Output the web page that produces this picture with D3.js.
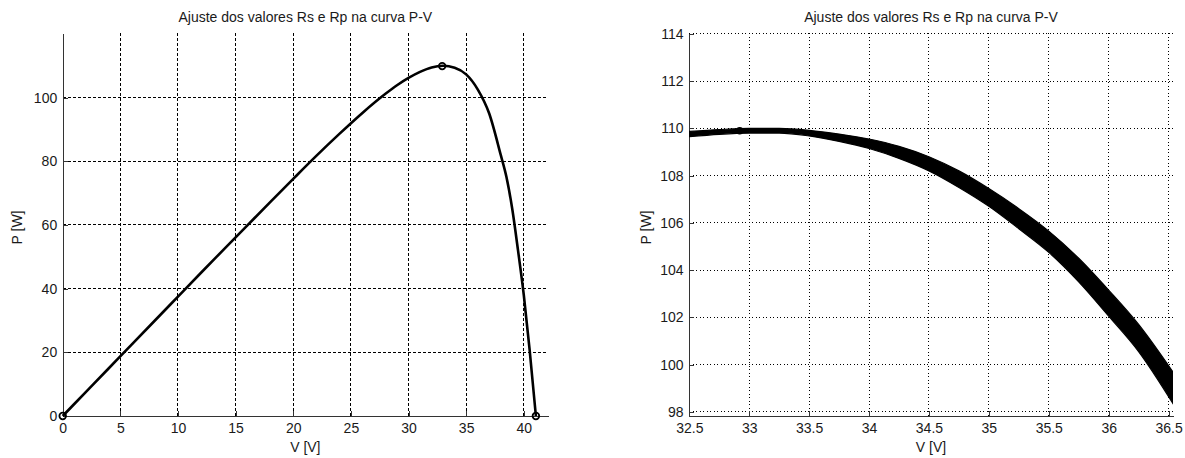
<!DOCTYPE html>
<html><head><meta charset="utf-8">
<script src="https://cdn.jsdelivr.net/npm/d3@7"></script>
<style>
body{margin:0;background:#fff}
text{font-family:"Liberation Sans",Arial,sans-serif;font-size:14px;fill:#1a1a1a}
</style>
</head><body>
<svg id="c" width="1185" height="458"></svg>
<script>
// ---- data ----
const chartTitle = "Ajuste dos valores Rs e Rp na curva P-V";
const xLabel = "V [V]";
const yLabel = "P [W]";

// full P-V curve (left)
const fullV = [0, 2, 4, 6, 8, 10, 12, 14, 16, 18, 20, 22, 24, 26, 28, 29, 30, 31, 32, 33, 34, 35, 36, 37, 38, 38.5, 39, 39.5, 40, 40.5, 41.05];
const fullP = [0, 7.5, 15.0, 22.5, 30.0, 37.5, 45.0, 52.4, 59.8, 67.2, 74.5, 81.7, 88.6, 95.2, 101.2, 103.9, 106.2, 108.1, 109.5, 110.0, 109.4, 107.3, 102.6, 95.0, 82.0, 75.0, 65.0, 52.0, 38.0, 21.0, 0];
const fullMarkerV = [0, 32.92, 41.05];
const fullMarkerP = [0, 109.9, 0];
const leftXTicks = [0, 5, 10, 15, 20, 25, 30, 35, 40];
const leftYTicks = [0, 20, 40, 60, 80, 100];

// zoomed family of curves (right): upper and lower envelope of the band
const zoomV     = [32.5, 32.75, 33.0, 33.25, 33.5, 33.75, 34.0, 34.25, 34.5, 34.75, 35.0, 35.25, 35.5, 35.75, 36.0, 36.25, 36.54];
const zoomUpper = [109.87, 109.95, 110.0, 110.0, 109.92, 109.76, 109.55, 109.24, 108.8, 108.2, 107.45, 106.6, 105.65, 104.5, 103.15, 101.7, 99.66];
const zoomLower = [109.65, 109.75, 109.8, 109.8, 109.68, 109.45, 109.15, 108.73, 108.2, 107.5, 106.7, 105.75, 104.75, 103.5, 102.05, 100.55, 98.32];
const zoomMarkerV = [32.92];
const zoomMarkerP = [109.9];
const rightXTicks = [32.5, 33, 33.5, 34, 34.5, 35, 35.5, 36, 36.5];
const rightYTicks = [98, 100, 102, 104, 106, 108, 110, 112, 114];

// ---- drawing ----
const svg = d3.select("#c");
const plotTop = 33, plotBottom = 416;

function frame(g, x, y, xTicks, yTicks, dash, cx, ylabX, fmt) {
  const [x0, x1] = x.range();
  g.append("g").selectAll("line").data(xTicks.filter(t => x(t) > x0 + 1)).join("line")
    .attr("x1", d => x(d)).attr("x2", d => x(d)).attr("y1", plotTop).attr("y2", plotBottom)
    .attr("stroke", "#000").attr("stroke-width", 1).attr("stroke-dasharray", dash)
    .attr("shape-rendering", "crispEdges");
  g.append("g").selectAll("line").data(yTicks.filter(t => y(t) < plotBottom - 1)).join("line")
    .attr("x1", x0).attr("x2", x1).attr("y1", d => y(d)).attr("y2", d => y(d))
    .attr("stroke", "#000").attr("stroke-width", 1).attr("stroke-dasharray", dash)
    .attr("shape-rendering", "crispEdges");
  const ax = g.append("g").attr("transform", `translate(0,${plotBottom})`)
    .call(d3.axisBottom(x).tickValues(xTicks).tickFormat(fmt.x).tickSizeInner(-5).tickSizeOuter(0).tickPadding(7.5));
  const ay = g.append("g").attr("transform", `translate(${x0},0)`)
    .call(d3.axisLeft(y).tickValues(yTicks).tickFormat(fmt.y).tickSizeInner(-5).tickSizeOuter(0).tickPadding(5.5));
  [ax, ay].forEach(a => {
    a.selectAll("path,line").attr("stroke", "#333").attr("shape-rendering", "crispEdges");
    a.selectAll("text").attr("font-size", 14).attr("font-family", '"Liberation Sans",Arial,sans-serif').attr("fill", "#1a1a1a");
  });
  g.append("text").attr("x", cx).attr("y", 22).attr("text-anchor", "middle").text(chartTitle);
  g.append("text").attr("x", cx).attr("y", 452).attr("text-anchor", "middle").text(xLabel);
  g.append("text").attr("transform", `translate(${ylabX},${(plotTop + plotBottom) / 2 + 3}) rotate(-90)`)
    .attr("text-anchor", "middle").text(yLabel);
}

// Left chart
{
  const x = d3.scaleLinear().domain([0, 42.1]).range([62.7, 548]);
  const y = d3.scaleLinear().domain([0, 120.3]).range([plotBottom, plotTop]);
  const g = svg.append("g");
  frame(g, x, y, leftXTicks, leftYTicks, "3,2", (62.7 + 548) / 2, 21.5, {x: d3.format("d"), y: d3.format("d")});
  const pts = fullV.map((v, i) => [v, fullP[i]]);
  g.append("path").datum(pts)
    .attr("d", d3.line().x(d => x(d[0])).y(d => y(d[1])).curve(d3.curveMonotoneX))
    .attr("fill", "none").attr("stroke", "#000").attr("stroke-width", 2.6).attr("stroke-linejoin", "round");
  g.append("g").selectAll("circle").data(fullMarkerV.map((v, i) => [v, fullMarkerP[i]])).join("circle")
    .attr("cx", d => x(d[0])).attr("cy", d => y(d[1])).attr("r", 3.3)
    .attr("fill", "none").attr("stroke", "#000").attr("stroke-width", 1.8);
}

// Right chart
{
  const x = d3.scaleLinear().domain([32.497, 36.537]).range([689, 1173]);
  const y = d3.scaleLinear().domain([97.82, 114.04]).range([plotBottom, plotTop]);
  const g = svg.append("g");
  frame(g, x, y, rightXTicks, rightYTicks, "1,2.5", (689 + 1173) / 2, 650.5,
        {x: d => (Number.isInteger(d) ? d3.format("d")(d) : d3.format(".1f")(d)), y: d3.format("d")});
  svg.append("clipPath").attr("id", "clipR").append("rect")
    .attr("x", 689).attr("y", plotTop).attr("width", 1173 - 689).attr("height", plotBottom - plotTop);
  const band = zoomV.map((v, i) => ({v, u: zoomUpper[i], l: zoomLower[i]}));
  const gc = g.append("g").attr("clip-path", "url(#clipR)");
  gc.append("path").datum(band)
    .attr("d", d3.area().x(d => x(d.v)).y0(d => y(d.l)).y1(d => y(d.u)).curve(d3.curveMonotoneX))
    .attr("fill", "#000").attr("stroke", "#000").attr("stroke-width", 1.2);
  gc.selectAll("circle").data(zoomMarkerV.map((v, i) => [v, zoomMarkerP[i]])).join("circle")
    .attr("cx", d => x(d[0])).attr("cy", d => y(d[1])).attr("r", 3)
    .attr("fill", "#000").attr("stroke", "#000").attr("stroke-width", 1.5);
}
</script>
</body></html>
